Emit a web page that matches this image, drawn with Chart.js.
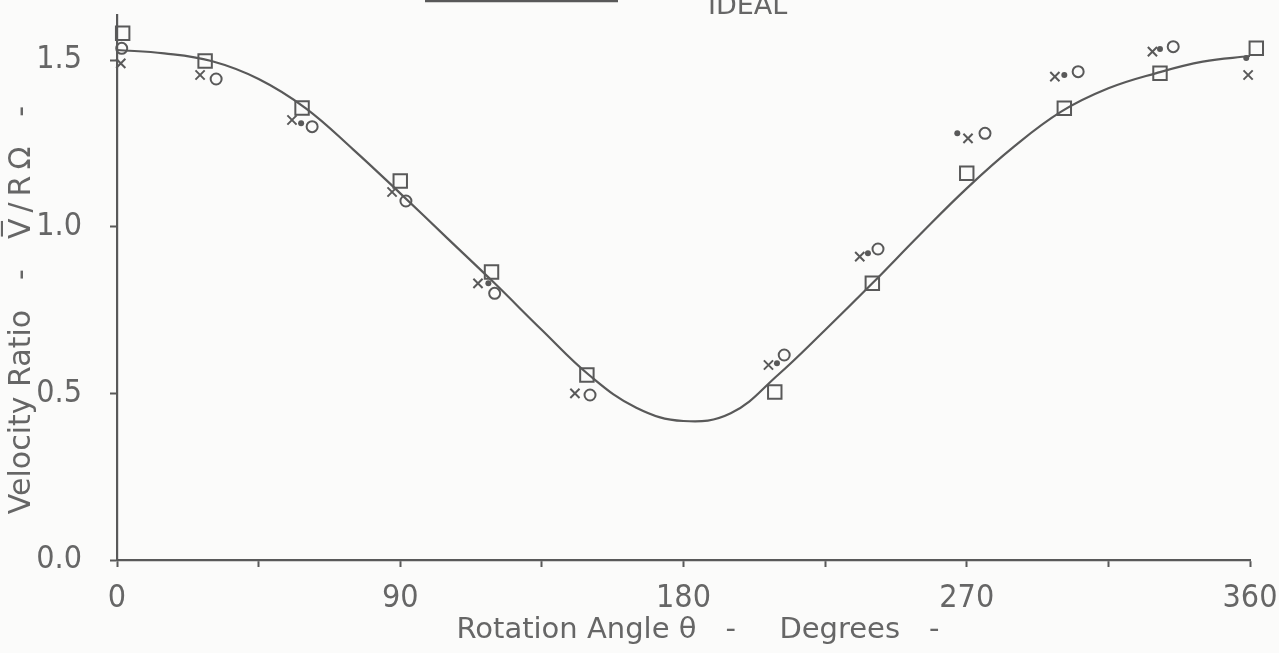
<!DOCTYPE html>
<html>
<head>
<meta charset="utf-8">
<title>Velocity Ratio vs Rotation Angle</title>
<script src="https://cdn.jsdelivr.net/npm/chart.js@4/dist/chart.umd.min.js"></script>
<style>
  html, body { margin: 0; padding: 0; background: #fbfbfa; }
  #chart_canvas { display: block; }
</style>
</head>
<body>
<canvas id="chart_canvas" width="1279" height="653"></canvas>
<script>
// ideal curve, every 15 degrees
const idealAngles = [0, 15, 30, 45, 60, 75, 90, 105, 120, 135, 150, 165, 180,
                     195, 210, 225, 240, 255, 270, 285, 300, 315, 330, 345, 360];
const idealValues = [1.53, 1.52, 1.497, 1.443, 1.355, 1.232, 1.10, 0.965, 0.83, 0.69, 0.555, 0.457, 0.417,
                     0.44, 0.555, 0.69, 0.83, 0.975, 1.115, 1.24, 1.345, 1.415, 1.46, 1.495, 1.512];

// measured points (square, circle, cross, dot)
const squareAngles = [1.8, 28, 58.8, 90, 119, 149.3, 209, 240, 270, 301, 331.4, 362];
const squareValues = [1.58, 1.497, 1.356, 1.137, 0.864, 0.555, 0.504, 0.83, 1.16, 1.355, 1.46, 1.535];

const circleAngles = [1.5, 31.5, 62, 91.8, 120, 150.3, 212, 241.8, 275.8, 305.4, 335.6, 363];
const circleValues = [1.535, 1.443, 1.30, 1.077, 0.80, 0.495, 0.615, 0.933, 1.28, 1.465, 1.54, 1.49];

const crossAngles = [1.2, 26.4, 55.6, 87.4, 114.7, 145.5, 207, 236, 270.4, 298, 329, 359.4];
const crossValues = [1.49, 1.455, 1.32, 1.104, 0.83, 0.50, 0.585, 0.91, 1.265, 1.45, 1.525, 1.455];

const dotAngles = [58.5, 118, 209.7, 238.6, 267, 301, 331.4, 358.8];
const dotValues = [1.31, 0.83, 0.59, 0.92, 1.28, 1.455, 1.533, 1.506];

const xTickLabels = [0, 90, 180, 270, 360];
const yTickLabels = [0, 0.5, 1.0, 1.5];

const ink = "#595959";
const textInk = "#666666";

function pairs(xs, ys) {
  return xs.map((x, i) => ({ x: x, y: ys[i] }));
}

// the cut-off "IDEAL" key at the top edge
const idealKey = {
  id: "idealKey",
  afterDraw(chart) {
    const ctx = chart.ctx;
    ctx.save();
    ctx.strokeStyle = ink;
    ctx.lineWidth = 2.5;
    ctx.beginPath();
    ctx.moveTo(425, 1);
    ctx.lineTo(618, 1);
    ctx.stroke();
    ctx.fillStyle = textInk;
    ctx.font = "27px 'DejaVu Sans'";
    ctx.textBaseline = "alphabetic";
    ctx.fillText("IDEAL", 708, 14);
    ctx.restore();
  }
};

const context = document.getElementById("chart_canvas").getContext("2d");

new Chart(context, {
  type: "scatter",
  data: {
    datasets: [{
      label: "IDEAL",
      data: pairs(idealAngles, idealValues),
      showLine: true,
      borderColor: ink,
      borderWidth: 2.2,
      pointRadius: 0,
      tension: 0.4,
      order: 5
    }, {
      label: "square",
      data: pairs(squareAngles, squareValues),
      pointStyle: "rect",
      pointRadius: 9.5,
      pointBorderWidth: 2,
      pointBorderColor: ink,
      pointBackgroundColor: "rgba(0,0,0,0)",
      clip: false,
      order: 1
    }, {
      label: "circle",
      data: pairs(circleAngles, circleValues),
      pointStyle: "circle",
      pointRadius: 5.5,
      pointBorderWidth: 2,
      pointBorderColor: ink,
      pointBackgroundColor: "rgba(0,0,0,0)",
      clip: false,
      order: 2
    }, {
      label: "cross",
      data: pairs(crossAngles, crossValues),
      pointStyle: "crossRot",
      pointRadius: 6.5,
      pointBorderWidth: 2,
      pointBorderColor: ink,
      clip: false,
      order: 3
    }, {
      label: "dot",
      data: pairs(dotAngles, dotValues),
      pointStyle: "circle",
      pointRadius: 3,
      pointBorderWidth: 0,
      pointBackgroundColor: ink,
      clip: false,
      order: 4
    }]
  },
  options: {
    responsive: false,
    animation: false,
    devicePixelRatio: 1,
    layout: { padding: { top: 15, right: 29, left: 0, bottom: 0 } },
    plugins: {
      legend: { display: false },
      tooltip: { enabled: false }
    },
    scales: {
      x: {
        type: "linear",
        min: 0,
        max: 360,
        afterFit: (scale) => {
          scale.height = 93;
          scale.paddingLeft = 0;
          scale.paddingRight = 0;
        },
        border: { color: ink, width: 2.2 },
        grid: { drawOnChartArea: false, tickLength: 7, tickWidth: 2, tickColor: ink },
        ticks: {
          stepSize: 45,
          padding: 12,
          color: textInk,
          maxRotation: 0,
          font: { family: "'DejaVu Sans Condensed', 'DejaVu Sans', sans-serif", size: 32 },
          callback: (v) => xTickLabels.includes(v) ? String(v) : ""
        },
        title: {
          display: true,
          text: "\u2002\u2002Rotation Angle θ\u2002\u2002-\u2002\u2002\u2002Degrees\u2002\u2002-",
          color: textInk,
          font: { family: "'DejaVu Sans'", size: 29 },
          padding: { top: 0, bottom: 5 }
        }
      },
      y: {
        min: 0,
        max: 1.635,
        afterFit: (scale) => {
          scale.width = 117;
          scale.paddingTop = 0;
          scale.paddingBottom = 0;
        },
        border: { color: ink, width: 2.2 },
        grid: { drawOnChartArea: false, tickLength: 7, tickWidth: 2, tickColor: ink },
        ticks: {
          stepSize: 0.5,
          includeBounds: false,
          padding: 28,
          color: textInk,
          font: { family: "'DejaVu Sans Condensed', 'DejaVu Sans', sans-serif", size: 32 },
          callback: (v) => yTickLabels.includes(v) ? v.toFixed(1) : ""
        },
        title: {
          display: true,
          text: "Velocity Ratio\u2002\u2002-\u2002\u2002V\u0305\u2009/\u2009R\u2009Ω\u2002\u2002-\u2002\u2002\u2002",
          color: textInk,
          font: { family: "'DejaVu Sans'", size: 30 },
          padding: { top: 4, bottom: 0 }
        }
      }
    }
  },
  plugins: [idealKey]
});
</script>
</body>
</html>
